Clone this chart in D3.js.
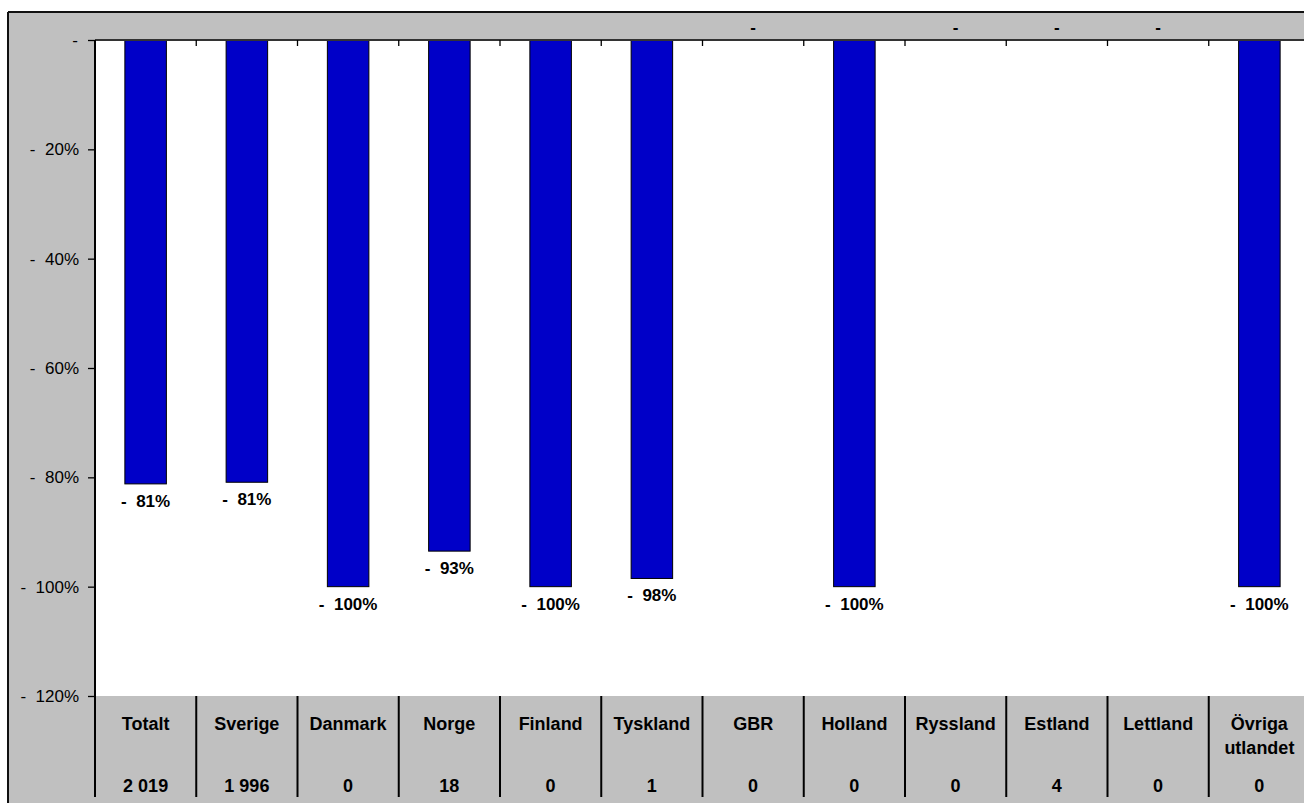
<!DOCTYPE html>
<html><head><meta charset="utf-8">
<script src="https://cdn.jsdelivr.net/npm/d3@7"></script>
<style>
html,body{margin:0;padding:0;background:#fff;}
svg{display:block;font-family:"Liberation Sans",Arial,sans-serif;}
text{white-space:pre;}
</style></head>
<body>
<svg id="chart" width="1304" height="803"></svg>
<script>
const categories = ["Totalt","Sverige","Danmark","Norge","Finland","Tyskland","GBR","Holland","Ryssland","Estland","Lettland","Övriga\nutlandet"];
const values = [-81.2,-80.9,-100,-93.5,-100,-98.5,0,-100,0,0,0,-100];
const valueLabels = ["-  81%","-  81%","-  100%","-  93%","-  100%","-  98%","-","-  100%","-","-","-","-  100%"];
const counts = ["2 019","1 996","0","18","0","1","0","0","0","4","0","0"];
const yTicks = [0,-20,-40,-60,-80,-100,-120];
const yTickLabels = ["-","-  20%","-  40%","-  60%","-  80%","-  100%","-  120%"];

(function(){
const svg = d3.select("#chart");
const pL = 95, pR = 1310, pT = 40, pB = 696;

// outer gray frame
svg.append("rect").attr("x",8).attr("y",12).attr("width",1400).attr("height",900).attr("fill","#c0c0c0");
svg.append("line").attr("x1",8).attr("x2",1304).attr("y1",12).attr("y2",12).attr("stroke","#111").attr("stroke-width",2);
svg.append("line").attr("x1",8).attr("x2",8).attr("y1",12).attr("y2",803).attr("stroke","#111").attr("stroke-width",2);

const x = d3.scaleBand().domain(categories).range([pL,pR]).padding(0);
const y = d3.scaleLinear().domain([0,-120]).range([pT,pB]);

// plot area
svg.append("rect").attr("x",pL).attr("y",pT).attr("width",pR-pL).attr("height",pB-pT).attr("fill","#fff");

// y axis
const yAxis = d3.axisLeft(y).tickValues(yTicks).tickSize(7).tickPadding(9)
  .tickFormat((d,i)=>yTickLabels[i]);
const gy = svg.append("g").attr("transform",`translate(${pL},0)`).call(yAxis);
gy.select(".domain").remove();
gy.selectAll(".tick line").attr("stroke","#000").attr("stroke-width",1.3);
gy.selectAll(".tick text").attr("font-size",17).attr("fill","#000")
  .attr("font-family","'Liberation Sans',Arial,sans-serif")
  .attr("dx",(d)=> d===0 ? -1 : 0);

// bars
const barW = x.bandwidth()*0.41;
svg.append("g").selectAll("rect").data(values).join("rect")
  .attr("x",(d,i)=>x(categories[i])+x.bandwidth()/2-barW/2)
  .attr("y",y(0))
  .attr("width",barW)
  .attr("height",d=>y(d)-y(0))
  .attr("fill","#0000c8")
  .attr("stroke","#000")
  .attr("stroke-width",1)
  .style("display",d=>d===0?"none":null);

// top x axis line and ticks
svg.append("line").attr("x1",pL).attr("x2",pR).attr("y1",pT).attr("y2",pT).attr("stroke","#333").attr("stroke-width",2);
const boundaries = categories.map(c=>x(c)).concat([pR]);
svg.append("g").selectAll("line").data(boundaries).join("line")
  .attr("x1",d=>d).attr("x2",d=>d).attr("y1",pT).attr("y2",pT+6)
  .attr("stroke","#000").attr("stroke-width",1.3);

// left axis line through table
svg.append("line").attr("x1",pL).attr("x2",pL).attr("y1",pT).attr("y2",797).attr("stroke","#000").attr("stroke-width",2);

// value labels
svg.append("g").selectAll("text").data(values).join("text")
  .attr("x",(d,i)=>x(categories[i])+x.bandwidth()/2)
  .attr("y",d=> d===0 ? 27 : y(d)+17.5)
  .attr("text-anchor","middle")
  .attr("dominant-baseline","central")
  .attr("font-size",17).attr("font-weight","bold").attr("fill","#000")
  .text((d,i)=>valueLabels[i]);

// table
svg.append("g").selectAll("line").data(categories.slice(1)).join("line")
  .attr("x1",d=>x(d)).attr("x2",d=>x(d)).attr("y1",pB).attr("y2",797)
  .attr("stroke","#000").attr("stroke-width",2);

const catG = svg.append("g");
categories.forEach((c,i)=>{
  const lines = c.split("\n");
  const cx = x(c)+x.bandwidth()/2;
  lines.forEach((ln,j)=>{
    catG.append("text").attr("x",cx).attr("y",723.5+j*24)
      .attr("text-anchor","middle").attr("dominant-baseline","central")
      .attr("font-size",18).attr("font-weight","bold").attr("fill","#000")
      .text(ln);
  });
  catG.append("text").attr("x",cx).attr("y",786)
    .attr("text-anchor","middle").attr("dominant-baseline","central")
    .attr("font-size",18).attr("font-weight","bold").attr("fill","#000")
    .text(counts[i]);
});
})();
</script>
</body></html>
